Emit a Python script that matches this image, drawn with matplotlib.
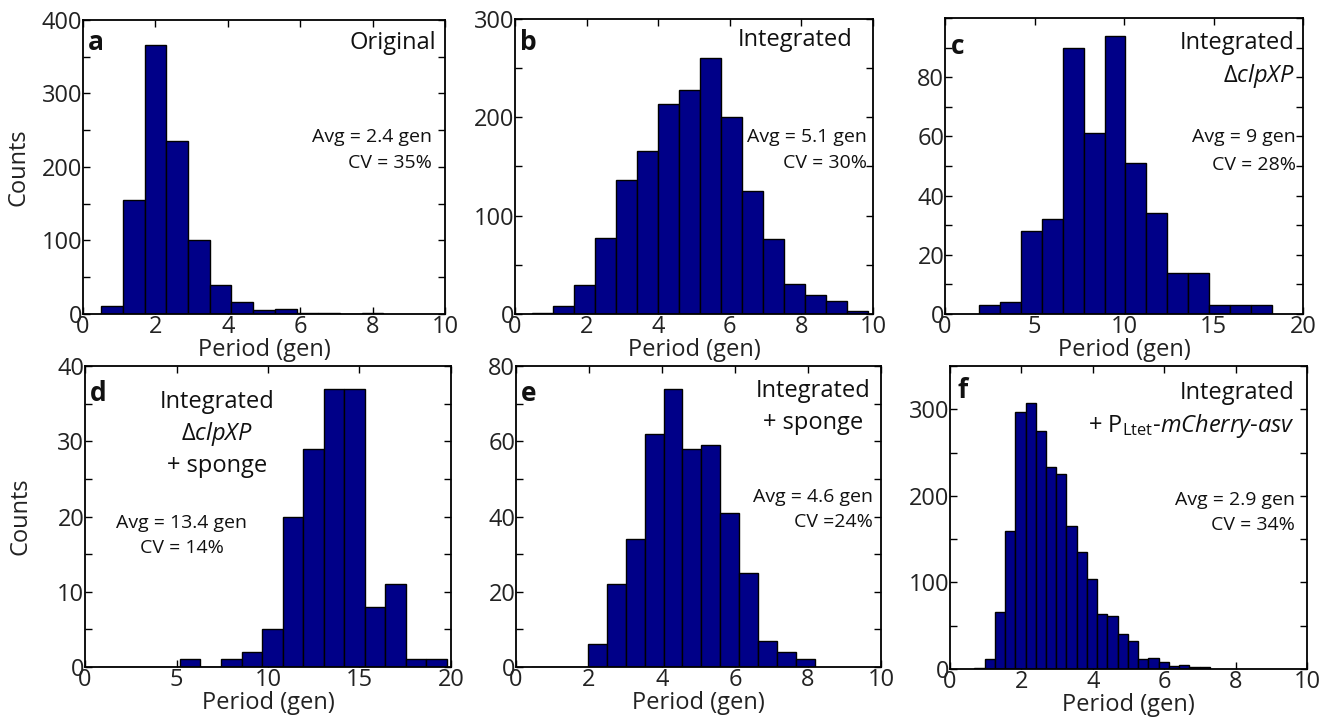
import numpy as np
import matplotlib
matplotlib.use("Agg")
import matplotlib.pyplot as plt
from matplotlib.ticker import MultipleLocator, FixedLocator

plt.rcParams['font.family'] = ['Open Sans', 'DejaVu Sans']
plt.rcParams['mathtext.fontset'] = 'custom'
plt.rcParams['mathtext.rm'] = 'Open Sans'
plt.rcParams['mathtext.it'] = 'Open Sans:italic'

# ---------------- data ----------------
# panel a: Original
a_start, a_width = 0.5, 0.6
a_counts = [11, 155, 366, 236, 100, 40, 16, 5, 7, 2, 2, 0, 2]
# panel b: Integrated
b_start, b_width = 0.48, 0.586
b_counts = [1, 8, 29, 77, 136, 166, 214, 228, 260, 200, 125, 76, 31, 19, 13, 3]
# panel c: Integrated dclpXP
c_start, c_width = 1.92, 1.166
c_counts = [3, 4, 28, 32, 90, 61, 94, 51, 34, 14, 14, 3, 3, 3]
# panel d: Integrated dclpXP + sponge
d_start, d_width = 0.70, 1.122
d_counts = [0, 0, 0, 0, 1, 0, 1, 2, 5, 20, 29, 37, 37, 8, 11, 1, 1]
# panel e: Integrated + sponge
e_start, e_width = 0.416, 0.518
e_counts = [0, 0, 0, 6, 22, 34, 62, 74, 58, 59, 41, 25, 7, 4, 2]
# panel f: Integrated + PLtet-mCherry-asv
f_start, f_width = 0.68, 0.287
f_counts = [1, 12, 66, 159, 297, 307, 275, 233, 225, 165, 135, 104, 63, 61,
            41, 32, 12, 13, 8, 3, 5, 2, 2]

W, H = 1330, 717
fig = plt.figure(figsize=(W / 100, H / 100), dpi=100)

BAR_COLOR = '#000088'
TICK_FS = 17
LAB_FS = 17
STAT_FS = 14


def make_ax(px):
    x0, y0, x1, y1 = px
    return fig.add_axes([x0 / W, 1 - y1 / H, (x1 - x0) / W, (y1 - y0) / H])


def panel(px, start, width, counts, xlim, xmaj, ylim, ymaj, ymin, ylabels=None):
    ax = make_ax(px)
    n = len(counts)
    edges = start + width * np.arange(n + 1)
    ax.bar(edges[:-1], counts, width=width, align='edge', color=BAR_COLOR,
           edgecolor='black', linewidth=1.0, zorder=2)
    ax.set_xlim(*xlim)
    ax.set_ylim(*ylim)
    ax.xaxis.set_major_locator(MultipleLocator(xmaj))
    if ylabels is not None:
        ax.yaxis.set_major_locator(FixedLocator(ylabels))
    else:
        ax.yaxis.set_major_locator(MultipleLocator(ymaj))
    ax.yaxis.set_minor_locator(MultipleLocator(ymin))
    ax.tick_params(which='both', direction='in', top=True, right=True,
                   length=5, width=1, labelsize=TICK_FS, colors='black')
    ax.tick_params(axis='x', pad=1)
    ax.tick_params(axis='y', pad=0.5)
    for lab in ax.get_xticklabels() + ax.get_yticklabels():
        lab.set_color('#222222')
    for s in ax.spines.values():
        s.set_linewidth(1.3)
    ax.set_xlabel('Period (gen)', fontsize=LAB_FS, labelpad=-1, color='#222222')
    return ax


def ptext(x, y, s, **kw):
    kw.setdefault('fontsize', LAB_FS)
    kw.setdefault('color', '#111111')
    fig.text(x / W, 1 - y / H, s, **kw)


# Axes
ax_a = panel((83, 20, 445, 314), a_start, a_width, a_counts, (0, 10), 2, (0, 400), 100, 50)
ax_b = panel((515, 19, 873, 314), b_start, b_width, b_counts, (0, 10), 2, (0, 300), 100, 50)
ax_c = panel((945, 18, 1303, 314), c_start, c_width, c_counts, (0, 20), 5, (0, 100), 20, 10,
             ylabels=[0, 20, 40, 60, 80])
ax_d = panel((85, 366, 451, 667), d_start, d_width, d_counts, (0, 20), 5, (0, 40), 10, 5)
ax_e = panel((516, 366, 881, 667), e_start, e_width, e_counts, (0, 10), 2, (0, 80), 20, 10)
ax_f = panel((950, 366, 1307, 669), f_start, f_width, f_counts, (0, 10), 2, (0, 350), 100, 50,
             ylabels=[0, 100, 200, 300])

ax_a.set_ylabel('Counts', fontsize=LAB_FS, labelpad=8, color='#222222')
ax_d.set_ylabel('Counts', fontsize=LAB_FS, labelpad=18, color='#222222')

# panel letters
for (x, y, s) in [(88, 43, 'a'), (520, 42, 'b'), (951, 47, 'c'),
                  (90, 393, 'd'), (521, 393, 'e'), (957, 390, 'f')]:
    ptext(x, y, s, fontsize=19, fontweight='bold', va='center', ha='left')

# titles
ptext(436, 43, 'Original', ha='right', va='center')
ptext(852, 40, 'Integrated', ha='right', va='center')
ptext(1295, 43, 'Integrated', ha='right', va='center')
ptext(1295, 76, r'Δ$\mathit{clpXP}$', ha='right', va='center')
ptext(217, 402, 'Integrated', ha='center', va='center')
ptext(217, 434, r'Δ$\mathit{clpXP}$', ha='center', va='center')
ptext(217, 466, '+ sponge', ha='center', va='center')
ptext(813, 391, 'Integrated', ha='center', va='center')
ptext(813, 423, '+ sponge', ha='center', va='center')
ptext(1295, 393, 'Integrated', ha='right', va='center')
ptext(1295, 426, r'+ P$_{\mathrm{Ltet}}$-$\mathit{mCherry}$-$\mathit{asv}$', ha='right', va='center')

# stats
stats = [
    (432, 137, 163, 'right', 'Avg = 2.4 gen', 'CV = 35%'),
    (867, 137, 163, 'right', 'Avg = 5.1 gen', 'CV = 30%'),
    (1296, 137, 165, 'right', 'Avg = 9 gen', 'CV = 28%'),
    (182, 523, 548, 'center', 'Avg = 13.4 gen', 'CV = 14%'),
    (873, 497, 522, 'right', 'Avg = 4.6 gen', 'CV =24%'),
    (1295, 500, 525, 'right', 'Avg = 2.9 gen', 'CV = 34%'),
]
for x, y1, y2, ha, s1, s2 in stats:
    ptext(x, y1, s1, ha=ha, va='center', fontsize=STAT_FS)
    ptext(x, y2, s2, ha=ha, va='center', fontsize=STAT_FS)

fig.savefig('out.png', dpi=100)
